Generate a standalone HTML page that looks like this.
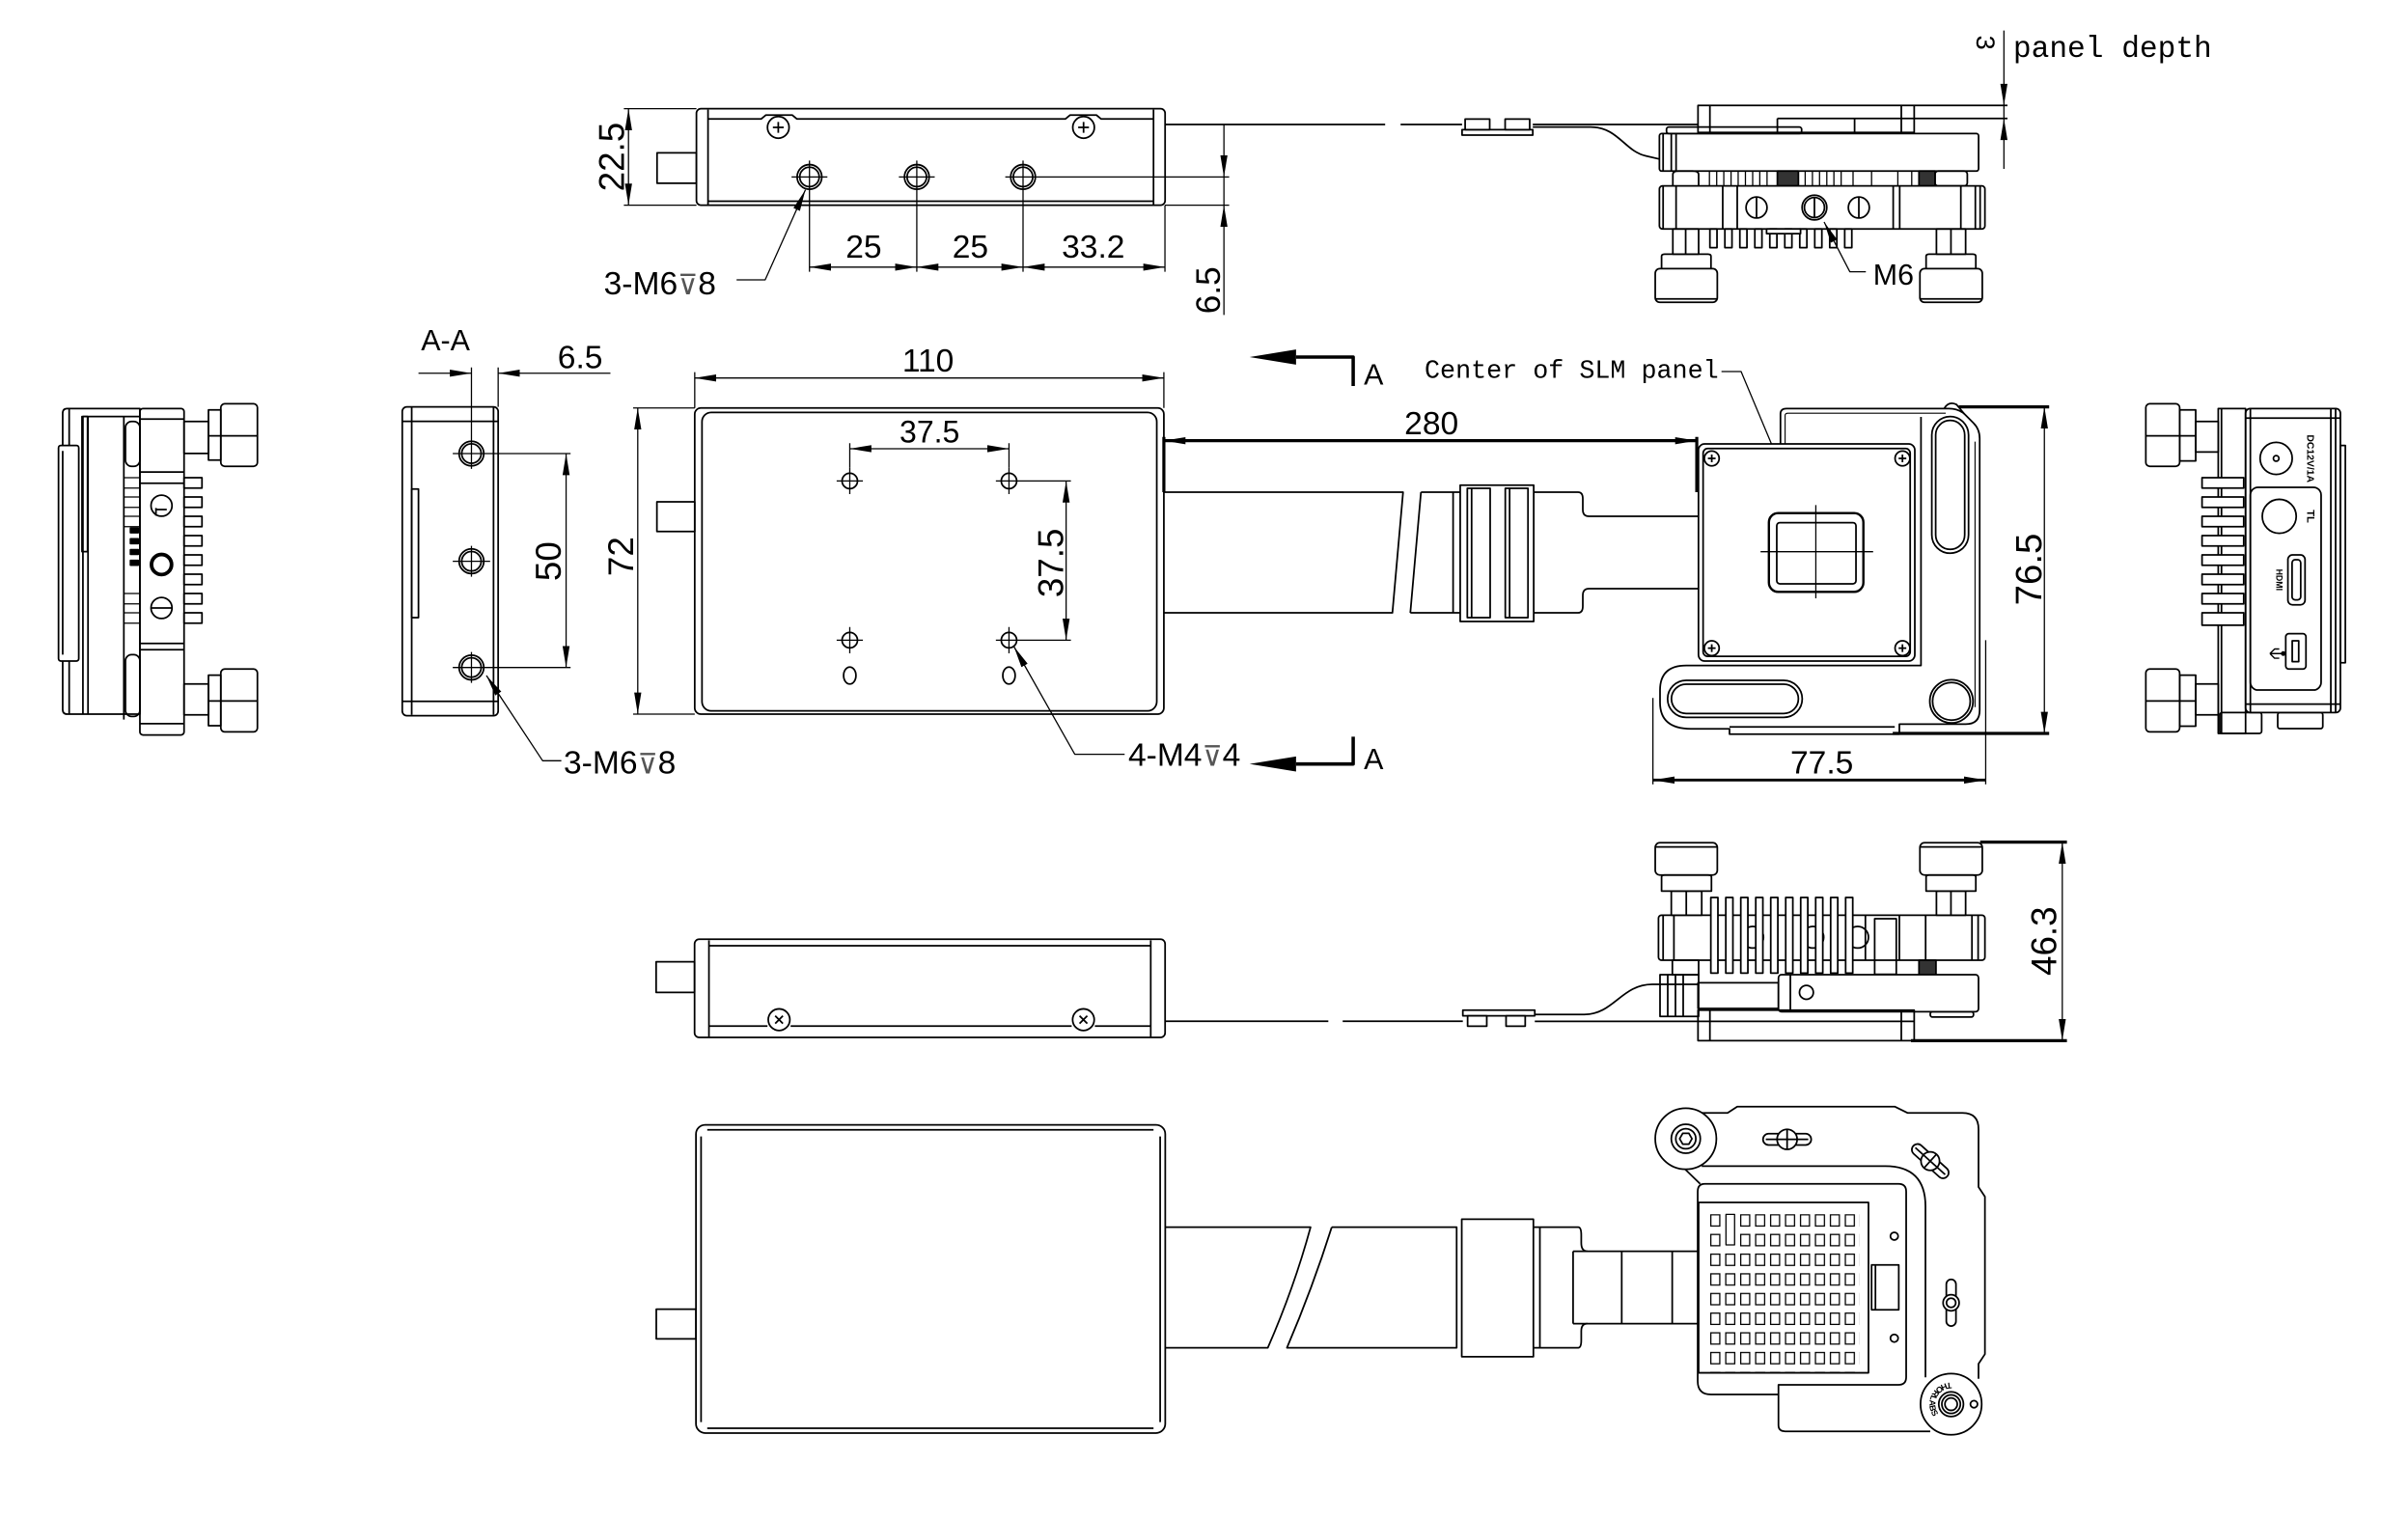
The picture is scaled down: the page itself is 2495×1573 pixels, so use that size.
<!DOCTYPE html>
<html><head><meta charset="utf-8"><title>SLM drawing</title>
<style>html,body{margin:0;padding:0;background:#fff}svg{display:block}</style></head>
<body>
<svg xmlns="http://www.w3.org/2000/svg" width="2495" height="1573" viewBox="0 0 1559.375 983.125">
<defs>
<marker id="ar" viewBox="0 -3 14 6" refX="14" refY="0" markerWidth="14" markerHeight="6" markerUnits="userSpaceOnUse" orient="auto-start-reverse"><path d="M0,-2.3L14,0L0,2.3z" fill="#000" stroke="none"/></marker>
<pattern id="grid" x="1107.5" y="786.35" width="9.68" height="12.74" patternUnits="userSpaceOnUse"><rect x="0.4" y="0.4" width="5.8" height="7.3" fill="none" stroke="#000" stroke-width="0.8"/></pattern>
<path id="thp" d="M1263.5,895.4 A14,14 0 1,0 1277.5,909.4"/>
</defs>
<rect width="1559.375" height="983.125" fill="#fff"/>

<g fill="none" stroke="#000" stroke-width="1.1" stroke-linejoin="round">
<!-- ============ TOP VIEW ============ -->
<rect x="451" y="70.4" width="303.5" height="62.5" rx="3"/>
<path d="M458.5,71V132.5M747,71V132.5M458.5,130.3H747"/>
<path d="M458.5,77H493l3,-2.5h17l3,2.5H690l3,-2.5h17l3,2.5H747"/>
<rect x="425.5" y="99" width="25.5" height="19.7"/>
<circle cx="504" cy="82.5" r="7"/><path d="M500.5,82.5h7M504,79v7"/>
<circle cx="701.7" cy="82.5" r="7"/><path d="M698.2,82.5h7M701.7,79v7"/>
<circle cx="524.2" cy="114.6" r="8"/><circle cx="524.2" cy="114.6" r="6.3"/>
<circle cx="593.7" cy="114.6" r="8"/><circle cx="593.7" cy="114.6" r="6.3"/>
<circle cx="662.5" cy="114.6" r="8"/><circle cx="662.5" cy="114.6" r="6.3"/>
<g stroke-width="0.8">
<path d="M512.6,114.6h23.2M582.1,114.6h23.2M651,114.6H796M524.2,104V176M593.7,104V176M662.5,104V176M754.4,133V176"/>
<line x1="524.2" y1="173" x2="593.7" y2="173" marker-start="url(#ar)" marker-end="url(#ar)"/>
<line x1="593.7" y1="173" x2="662.5" y2="173" marker-start="url(#ar)" marker-end="url(#ar)"/>
<line x1="662.5" y1="173" x2="754.4" y2="173" marker-start="url(#ar)" marker-end="url(#ar)"/>
<path d="M404,70.4H451M404,132.9H451"/>
<line x1="407" y1="70.4" x2="407" y2="132.9" marker-start="url(#ar)" marker-end="url(#ar)"/>
<path d="M792.6,80.6V204M754.4,132.9H796"/>
<polyline points="477,181.25 495.5,181.25 521.6,122.9" marker-end="url(#ar)"/>
</g>
<polygon points="792.6,114.6 790.3,100.6 794.9,100.6" fill="#000" stroke="none"/>
<polygon points="792.6,132.9 790.3,146.9 794.9,146.9" fill="#000" stroke="none"/>
<!-- cable top -->
<path d="M754.4,80.6H897M907,80.6H946.8M992.6,80.6H1100"/>
<rect x="946.8" y="84" width="45.8" height="3.5"/>
<rect x="948.8" y="77.1" width="15.9" height="6.9"/>
<rect x="974.7" y="77.1" width="15.9" height="6.9"/>
<path d="M992.6,82.3H1030C1048,82.3 1052,98 1066,101L1074.6,103"/>
<!-- top right device -->
<rect x="1099.6" y="68.3" width="140" height="17.5"/>
<path d="M1107.3,68.3V85.8M1231.25,68.3V85.8M1239.6,68.3H1300M1151,76.7H1300M1151,76.7V85.8M1201,76.7V85.8"/>
<rect x="1079.2" y="82.3" width="87.5" height="4.2" rx="1.5"/>
<rect x="1074.6" y="86.5" width="206.7" height="24.3" rx="1.5"/>
<path d="M1077,86.5V110.8M1082.3,86.5V110.8M1085.4,86.5V110.8"/>
<g stroke-width="0.8">
<path d="M1107,110.8v9.6M1111.7,110.8v9.6M1116.3,110.8v9.6M1121,110.8v9.6M1125.6,110.8v9.6M1130.3,110.8v9.6M1135,110.8v9.6M1139.6,110.8v9.6M1144.3,110.8v9.6M1169,110.8v9.6M1173.7,110.8v9.6M1178.3,110.8v9.6M1183,110.8v9.6M1187.6,110.8v9.6M1192.3,110.8v9.6M1200,110.8v9.6M1212,110.8v9.6M1229,110.8v9.6M1238,110.8v9.6"/>
</g>
<rect x="1151" y="110.8" width="13.6" height="9.6" fill="#333"/>
<rect x="1242.7" y="110.8" width="10.4" height="9.6" fill="#333"/>
<path d="M1083.3,120.4V113Q1083.3,110.8 1087,110.8H1096Q1100,110.8 1100,113V120.4"/>
<rect x="1253.1" y="110.8" width="20.9" height="9.6" rx="2"/>
<rect x="1074.6" y="120.4" width="210.8" height="27.9" rx="2"/>
<path d="M1077,120.4V148.3M1085.4,120.4V148.3M1115.6,120.4V148.3M1125,120.4V148.3M1226,120.4V148.3M1230.2,120.4V148.3M1269.8,120.4V148.3M1279.2,120.4V148.3M1282.3,120.4V148.3"/>
<circle cx="1137.5" cy="134.4" r="6.8"/><path d="M1137.5,127.6V141.2"/>
<circle cx="1175" cy="134.4" r="8"/><circle cx="1175" cy="134.4" r="6.5"/><path d="M1175,128V141"/>
<circle cx="1203.75" cy="134.4" r="6.8"/><path d="M1203.75,127.6V141.2"/>
<rect x="1107.3" y="148.3" width="4.6" height="12.1"/><rect x="1117" y="148.3" width="4.6" height="12.1"/><rect x="1126.7" y="148.3" width="4.6" height="12.1"/><rect x="1136.4" y="148.3" width="4.6" height="12.1"/><rect x="1146.1" y="148.3" width="4.6" height="12.1"/><rect x="1155.8" y="148.3" width="4.6" height="12.1"/><rect x="1165.5" y="148.3" width="4.6" height="12.1"/><rect x="1175.2" y="148.3" width="4.6" height="12.1"/><rect x="1184.9" y="148.3" width="4.6" height="12.1"/><rect x="1194.6" y="148.3" width="4.6" height="12.1"/>
<rect x="1144" y="148.3" width="22" height="3" fill="#fff"/>
<rect x="1083.3" y="148.3" width="16.7" height="16.3"/><path d="M1091.6,148.3V164.6"/>
<rect x="1254" y="148.3" width="18.9" height="16.3"/><path d="M1263.4,148.3V164.6"/>
<path d="M1076,174V166Q1076,164.6 1078,164.6H1106Q1108,164.6 1108,166V174"/>
<rect x="1071.9" y="174" width="40.2" height="21.8" rx="3"/>
<path d="M1071.9,193.6H1112.1"/>
<path d="M1247.3,174V166Q1247.3,164.6 1249.3,164.6H1277.5Q1279.5,164.6 1279.5,166V174"/>
<rect x="1243.3" y="174" width="40.4" height="21.8" rx="3"/>
<path d="M1243.3,193.6H1283.7"/>
<g stroke-width="0.8">
<polyline points="1208.3,176 1197.9,176 1181.25,143.75" marker-end="url(#ar)"/>
<path d="M1297.7,19.8V109.4"/>
</g>
<polygon points="1297.7,68.3 1295.4,54.3 1300,54.3" fill="#000" stroke="none"/>
<polygon points="1297.7,76.7 1295.4,90.7 1300,90.7" fill="#000" stroke="none"/>

<!-- ============ FAR LEFT VIEW ============ -->
<path d="M43.6,264.6H90.6V462.5H43.6Q40.6,462.5 40.6,459.5V267.6Q40.6,264.6 43.6,264.6Z"/>
<path d="M44.8,264.6V462.5M57,269.8V462.5M53.7,269.8H90.6M53.7,269.8V462.5M80.2,269.8V466"/>
<rect x="37.9" y="288.5" width="13.1" height="139.6" rx="1.5" fill="#fff"/>
<path d="M40.6,292V424"/>
<rect x="53.1" y="269.8" width="3.6" height="87.5"/>
<rect x="81.25" y="273" width="9.35" height="29" rx="4"/>
<rect x="81.25" y="424" width="9.35" height="40" rx="4"/>
<g stroke-width="0.8">
<path d="M80.2,309.4h10.4M80.2,316.1h10.4M80.2,321.9h10.4M80.2,328.6h10.4M80.2,334.4h10.4M80.2,341.1h10.4M80.2,384.4h10.4M80.2,391.1h10.4M80.2,396.9h10.4M80.2,403.6h10.4"/>
</g>
<rect x="84.5" y="342" width="5" height="3" fill="#000"/><rect x="84.5" y="349" width="5" height="3" fill="#000"/><rect x="84.5" y="356" width="5" height="3" fill="#000"/><rect x="84.5" y="363" width="5" height="3" fill="#000"/>
<rect x="90.6" y="264.6" width="28.6" height="211.4" rx="2"/>
<path d="M90.6,271.4H119.2M90.6,305.7H119.2M90.6,313H119.2M90.6,416.7H119.2M90.6,420.8H119.2M90.6,468.7H119.2"/>
<rect x="119.2" y="309.4" width="11.6" height="6.7"/><rect x="119.2" y="321.9" width="11.6" height="6.7"/><rect x="119.2" y="334.4" width="11.6" height="6.7"/><rect x="119.2" y="346.9" width="11.6" height="6.7"/><rect x="119.2" y="359.4" width="11.6" height="6.7"/><rect x="119.2" y="371.9" width="11.6" height="6.7"/><rect x="119.2" y="384.4" width="11.6" height="6.7"/><rect x="119.2" y="396.9" width="11.6" height="6.7"/>
<circle cx="104.6" cy="327.5" r="6.8"/><path d="M101,329V334M101,330H108"/>
<circle cx="104.6" cy="365.6" r="6.5" stroke-width="2.4"/>
<circle cx="104.6" cy="393.75" r="6.8"/><path d="M98,393.75H111.2"/>
<rect x="119.2" y="273" width="15.8" height="20.7"/>
<path d="M135,265.5H143V298H135Z"/>
<rect x="143" y="261.5" width="23.7" height="40.5" rx="2.5"/>
<path d="M135,282.3H166.7"/>
<rect x="119.2" y="443" width="15.8" height="20"/>
<path d="M135,437.3H143V470H135Z"/>
<rect x="143" y="433.3" width="23.7" height="40.7" rx="2.5"/>
<path d="M135,454H166.7"/>

<!-- ============ A-A SECTION ============ -->
<rect x="260.5" y="263.5" width="62.1" height="200" rx="3"/>
<path d="M266.6,264V463M319.6,264V463M260.5,272.9H322.6M260.5,454.2H322.6"/>
<rect x="266.6" y="316.7" width="4.4" height="83.3"/>
<circle cx="305.3" cy="293.75" r="8"/><circle cx="305.3" cy="293.75" r="6.3"/>
<circle cx="305.3" cy="363.5" r="8"/><circle cx="305.3" cy="363.5" r="6.3"/>
<circle cx="305.3" cy="432.3" r="8"/><circle cx="305.3" cy="432.3" r="6.3"/>
<g stroke-width="0.8">
<path d="M293.2,293.75H369.5M293.2,363.5H317.4M305.3,353.5V373.5M293.2,432.3H369.5M305.3,422.3V442.3M305.3,238V303.7M322.6,238V263.5"/>
<line x1="271" y1="241.7" x2="305.3" y2="241.7" marker-end="url(#ar)"/>
<line x1="395.3" y1="241.7" x2="322.6" y2="241.7" marker-end="url(#ar)"/>
<line x1="366.6" y1="293.75" x2="366.6" y2="432.3" marker-start="url(#ar)" marker-end="url(#ar)"/>
<path d="M410,264.2H449.9M410,462.5H449.9"/>
<line x1="413" y1="264.2" x2="413" y2="462.5" marker-start="url(#ar)" marker-end="url(#ar)"/>
<polyline points="363.5,492.7 351.4,492.7 315,437.5" marker-end="url(#ar)"/>
</g>

<!-- ============ MIDDLE TOP VIEW ============ -->
<rect x="449.9" y="264.2" width="303.8" height="198.3" rx="4"/>
<rect x="454.6" y="267.1" width="294.5" height="193.3" rx="6"/>
<rect x="425.4" y="325" width="24.5" height="19.2"/>
<circle cx="550.3" cy="311.5" r="5"/><circle cx="653.4" cy="311.5" r="5"/>
<circle cx="550.3" cy="414.6" r="5"/><circle cx="653.4" cy="414.6" r="5"/>
<ellipse cx="550.3" cy="437.5" rx="4" ry="5.5"/><ellipse cx="653.4" cy="437.5" rx="4" ry="5.5"/>
<g stroke-width="0.8">
<path d="M541.8,311.5h17M550.3,303v17M541.8,414.6h17M550.3,406.1v17M644.9,311.5H693.5M653.4,303v17M644.9,414.6H693.5M653.4,406.1v17"/>
<path d="M449.9,241V264.2M753.7,241V264.2M550.3,287V303M653.4,287V303"/>
<line x1="449.9" y1="244.8" x2="753.7" y2="244.8" marker-start="url(#ar)" marker-end="url(#ar)"/>
<line x1="550.3" y1="290.6" x2="653.4" y2="290.6" marker-start="url(#ar)" marker-end="url(#ar)"/>
<line x1="690.4" y1="311.5" x2="690.4" y2="414.6" marker-start="url(#ar)" marker-end="url(#ar)"/>
<polyline points="728.3,488.5 696,488.5 656.6,418.75" marker-end="url(#ar)"/>
<polyline points="1114.8,240.6 1127.5,240.6 1175.9,356" marker-end="url(#ar)"/>
</g>
<!-- section markers -->
<polygon points="809.2,231.25 839.3,226.3 839.3,236.2" fill="#000" stroke="none"/>
<path d="M839.3,231.25H876.3V250" stroke-width="2.2"/>
<polygon points="809.2,494.8 839.3,489.9 839.3,499.7" fill="#000" stroke="none"/>
<path d="M839.3,494.8H876.3V477.1" stroke-width="2.2"/>
<!-- cable middle -->
<path d="M753.7,318.75H908.6L901.7,396.9H753.7"/>
<path d="M920.2,318.75H945.6M913.3,396.9H945.6M920.2,318.75L913.3,396.9M941,318.75V396.9"/>
<rect x="945.6" y="314.2" width="47.6" height="88.3"/>
<rect x="950.2" y="316.25" width="14.8" height="83.75"/><path d="M953,316.25V400"/>
<rect x="974.8" y="316.25" width="14.7" height="83.75"/><path d="M977.6,316.25V400"/>
<path d="M993.2,318.75H1021.9Q1025,318.75 1025,323V330Q1025,334.4 1029,334.4H1099.9"/>
<path d="M993.2,396.9H1021.9Q1025,396.9 1025,392.6V385.6Q1025,381.25 1029,381.25H1099.9"/>
<path d="M753.7,283V318.75M1098.8,283V318.75" stroke-width="2"/>
<line x1="753.7" y1="285.4" x2="1098.8" y2="285.4" stroke-width="2" marker-start="url(#ar)" marker-end="url(#ar)"/>

<!-- ============ SLM HEAD FRONT ============ -->
<path d="M1153,287.5V268Q1153,264.6 1157,264.6H1262Q1268,264.6 1272,268L1278,274Q1282,278 1282,284V460Q1282,469 1273,469H1230V475.5H1120V472H1095Q1075,472 1075,455V447Q1075,431 1092,431H1100"/>
<path d="M1156,287.5V269Q1156,267.6 1158,267.6H1260M1279,286V458" stroke-width="0.7"/>
<path d="M1244,270V431H1100M1120,470.8H1227"/>
<path d="M1259,264.6Q1262,259.5 1267,262L1272,268"/>
<rect x="1099.9" y="287.5" width="140.1" height="140.6" rx="4" fill="#fff"/>
<rect x="1102.9" y="290.5" width="134.1" height="134.6" rx="3"/>
<circle cx="1108.5" cy="296.9" r="4.8"/><circle cx="1232" cy="296.9" r="4.8"/>
<circle cx="1108.5" cy="419.8" r="4.8"/><circle cx="1232" cy="419.8" r="4.8"/>
<path d="M1106,296.9h5M1108.5,294.4v5M1229.5,296.9h5M1232,294.4v5M1106,419.8h5M1108.5,417.3v5M1229.5,419.8h5M1232,417.3v5"/>
<rect x="1145.5" y="332.3" width="61.2" height="51" rx="6" stroke-width="1.5"/>
<rect x="1150.6" y="338.5" width="51.3" height="39.6" rx="2"/>
<path d="M1140.1,357.3H1213M1175.9,327.1V387.5" stroke-width="0.8"/>
<rect x="1251" y="269.8" width="23.8" height="88.5" rx="11.9"/>
<rect x="1253.5" y="272.3" width="18.8" height="83.5" rx="9.4"/>
<rect x="1079.9" y="440.6" width="87.2" height="24" rx="12"/>
<rect x="1082.4" y="443.1" width="82.2" height="19" rx="9.5"/>
<circle cx="1263.7" cy="454.2" r="14"/><circle cx="1263.7" cy="454.2" r="12.2"/>
<g stroke-width="0.8">
<path d="M1268.5,263.5H1327M1225.7,475H1327" stroke-width="2"/>
<line x1="1323.9" y1="263.5" x2="1323.9" y2="475" marker-start="url(#ar)" marker-end="url(#ar)"/>
<path d="M1070.4,452V508M1285.9,414.6V508"/>
<line x1="1070.4" y1="505.2" x2="1285.9" y2="505.2" stroke-width="1.8" marker-start="url(#ar)" marker-end="url(#ar)"/>
</g>

<!-- ============ RIGHT SIDE VIEW ============ -->
<rect x="1411.5" y="265.5" width="10.4" height="33"/>
<rect x="1389.6" y="261.5" width="21.9" height="40.5" rx="2.5"/>
<path d="M1389.6,282.3H1421.9"/>
<rect x="1421.9" y="273" width="14.6" height="19.7"/>
<rect x="1436.5" y="264.6" width="17.7" height="210.4"/>
<path d="M1438.6,264.6V475"/>
<rect x="1426" y="309.4" width="27" height="6.7" fill="#fff"/><rect x="1426" y="321.9" width="27" height="6.7" fill="#fff"/><rect x="1426" y="334.4" width="27" height="6.7" fill="#fff"/><rect x="1426" y="346.9" width="27" height="6.7" fill="#fff"/><rect x="1426" y="359.4" width="27" height="6.7" fill="#fff"/><rect x="1426" y="371.9" width="27" height="6.7" fill="#fff"/><rect x="1426" y="384.4" width="27" height="6.7" fill="#fff"/><rect x="1426" y="396.9" width="27" height="8" fill="#fff"/>
<rect x="1454.2" y="264.6" width="61.4" height="196.9" rx="3"/>
<path d="M1457.3,264.6V461.5M1509.4,264.6V461.5M1512.5,264.6V461.5M1454.2,270.8H1515.6M1454.2,456H1515.6"/>
<rect x="1515.6" y="288.5" width="3.2" height="140.7"/>
<circle cx="1474" cy="296.9" r="10.4"/><circle cx="1474" cy="296.9" r="1.8"/>
<rect x="1457.3" y="315.6" width="45.8" height="131.3" rx="5"/>
<circle cx="1476" cy="334.4" r="11"/>
<rect x="1481.6" y="359.4" width="11.1" height="32.3" rx="3"/>
<rect x="1484.3" y="362.5" width="5.6" height="26" rx="2"/>
<rect x="1480.2" y="410.4" width="13.1" height="22.9" rx="2"/>
<rect x="1484.4" y="415" width="4.2" height="13.5"/>
<path d="M1470,423.3H1478M1470,423.3l3,-3h3M1470,423.3l3,3h3" stroke-width="0.9"/>
<circle cx="1478.6" cy="423.3" r="1" fill="#000"/>
<rect x="1411.5" y="437.3" width="10.4" height="33"/>
<rect x="1389.6" y="433.3" width="21.9" height="40.7" rx="2.5"/>
<path d="M1389.6,454H1421.9"/>
<rect x="1421.9" y="443" width="14.6" height="20"/>
<rect x="1437.5" y="461.5" width="27.1" height="13.5" rx="1.5"/>
<rect x="1475" y="461.5" width="29.2" height="10.4" rx="1.5"/>

<!-- ============ LOWER SIDE VIEW ============ -->
<rect x="449.8" y="608.3" width="304.7" height="63.6" rx="3"/>
<path d="M459.1,609V671.5M745.2,609V671.5M459.1,612.5H745.2M459.1,664.5H497M512,664.5H694M709,664.5H745.2"/>
<rect x="424.9" y="622.9" width="24.9" height="19.8"/>
<circle cx="504.5" cy="660.4" r="7"/><path d="M502,657.9l5,5M507,657.9l-5,5"/>
<circle cx="701.6" cy="660.4" r="7"/><path d="M699.1,657.9l5,5M704.1,657.9l-5,5"/>
<path d="M754.5,661.4H860.2M869.5,661.4H947.3M993.9,661.5H1099.6"/>
<rect x="947.3" y="654.2" width="46.6" height="3.7"/>
<rect x="950.4" y="657.9" width="12.4" height="6.7"/>
<rect x="975.3" y="657.9" width="12.4" height="6.7"/>
<path d="M993.9,657H1026C1045,657 1050,637.5 1070,637.5H1099.6"/>
<!-- device lower -->
<path d="M1076,577.1V568Q1076,566.7 1078,566.7H1106Q1108.3,566.7 1108.3,568V577.1Z"/>
<rect x="1071.9" y="545.8" width="40.2" height="20.9" rx="3"/>
<path d="M1071.9,548.5H1112.1"/>
<rect x="1082.3" y="577.1" width="19.7" height="15.6"/><path d="M1092,577.1V592.7"/>
<path d="M1247.3,577.1V568Q1247.3,566.7 1249.3,566.7H1277.5Q1279.5,566.7 1279.5,568V577.1Z"/>
<rect x="1243.3" y="545.8" width="40.4" height="20.9" rx="3"/>
<path d="M1243.3,548.5H1283.7"/>
<rect x="1254" y="577.1" width="18.9" height="15.6"/><path d="M1263.4,577.1V592.7"/>
<rect x="1074" y="592.7" width="211.4" height="29.2" rx="2"/>
<path d="M1077,592.7V621.9M1084,592.7V621.9M1208,592.7V621.9M1230,592.7V621.9M1247,592.7V621.9M1277,592.7V621.9M1281,592.7V621.9"/>
<circle cx="1135" cy="607" r="7"/><circle cx="1174" cy="607" r="7"/><circle cx="1203" cy="607" r="7"/>
<rect x="1107.9" y="581.25" width="4.6" height="49" fill="#fff"/><rect x="1117.6" y="581.25" width="4.6" height="49" fill="#fff"/><rect x="1127.3" y="581.25" width="4.6" height="49" fill="#fff"/><rect x="1137" y="581.25" width="4.6" height="49" fill="#fff"/><rect x="1146.7" y="581.25" width="4.6" height="49" fill="#fff"/><rect x="1156.4" y="581.25" width="4.6" height="49" fill="#fff"/><rect x="1166.1" y="581.25" width="4.6" height="49" fill="#fff"/><rect x="1175.8" y="581.25" width="4.6" height="49" fill="#fff"/><rect x="1185.5" y="581.25" width="4.6" height="49" fill="#fff"/><rect x="1195.2" y="581.25" width="4.6" height="49" fill="#fff"/>
<rect x="1214" y="595" width="14" height="36"/>
<rect x="1083" y="621.9" width="17" height="9.4"/>
<rect x="1242.7" y="621.9" width="11" height="9.4" fill="#333"/>
<rect x="1075" y="631.25" width="25" height="27"/>
<path d="M1080,631.25V658.3M1085,631.25V658.3M1090,631.25V658.3"/>
<rect x="1099.6" y="636.5" width="52.1" height="16.6"/>
<rect x="1151.7" y="631.25" width="129.55" height="24" rx="2" fill="#fff"/>
<path d="M1159.4,631.25V655.25"/>
<circle cx="1169.8" cy="642.7" r="4.5"/>
<rect x="1099.6" y="654.2" width="140" height="19.8"/>
<path d="M1107.3,654.2V674M1231.25,654.2V674M1099.6,661.5H1239.6"/>
<rect x="1250" y="655.2" width="28" height="3.5" rx="1.5"/>
<g stroke-width="0.8">
<path d="M1282.3,545.4H1338.5M1237.5,674H1338.5" stroke-width="2"/>
<line x1="1335.5" y1="545.4" x2="1335.5" y2="674" marker-start="url(#ar)" marker-end="url(#ar)"/>
</g>

<!-- ============ BOTTOM VIEW ============ -->
<rect x="450.7" y="728.5" width="303.9" height="199.6" rx="6"/>
<path d="M454,736V921M751.3,736V921M458,731.7H747M458,925H747"/>
<rect x="425" y="847.9" width="25.7" height="19.2"/>
<path d="M754.6,794.8H848.7Q838,834 821,872.9H754.6"/>
<path d="M862.4,794.8H943.3V872.9H833.4Q850,834 862.4,794.8"/>
<rect x="946.6" y="789.6" width="46.4" height="89.1"/>
<path d="M993,794.8H1022Q1024,794.8 1024,800V805Q1024,810.4 1028,810.4M993,872.9H1022Q1024,872.9 1024,868V862Q1024,857.3 1028,857.3M997.2,794.8V872.9M1018.7,810.4V857.3"/>
<path d="M1018.7,810.4H1099.4M1018.7,857.3H1099.4M1050.2,810.4V857.3M1082.9,810.4V857.3"/>
<!-- SLM bottom -->
<path d="M1102,720.8H1118.75L1125,716.7H1227L1235.4,720.8H1270.8Q1281.25,720.8 1281.25,731.25V768.75L1285.4,775V877L1281.25,883.3V893"/>
<path d="M1246.9,892V781.25Q1246.9,755.2 1220.8,755.2H1102"/>
<path d="M1091,757L1101,766.7"/>
<path d="M1104,766.7H1229.4Q1234.4,766.7 1234.4,771.7V891.9Q1234.4,896.9 1229.4,896.9H1151.7V923Q1151.7,927 1156,927H1250M1151.7,896.9V903.1H1108Q1099.4,903.1 1099.4,894.5V771.7Q1099.4,766.7 1104,766.7"/>
<rect x="1100" y="778.75" width="110" height="110.35"/>
<rect x="1107.5" y="786.35" width="96.8" height="101.92" fill="url(#grid)" stroke="none"/>
<rect x="1116.5" y="785" width="8.5" height="24" fill="#fff" stroke="none"/>
<rect x="1117.7" y="786.5" width="5.6" height="19.75" stroke-width="0.8"/>
<circle cx="1226.7" cy="800.6" r="2.5"/><circle cx="1226.7" cy="866.7" r="2.5"/>
<rect x="1212" y="819.2" width="17.6" height="29.1"/><path d="M1214.5,819.2V848.3"/>
<circle cx="1091.7" cy="737.5" r="19.8" fill="#fff"/>
<circle cx="1091.7" cy="737.5" r="9.4"/><circle cx="1091.7" cy="737.5" r="6.5"/>
<polygon points="1095.7,737.5 1093.7,741 1089.7,741 1087.7,737.5 1089.7,734 1093.7,734"/>
<rect x="1141.7" y="734.25" width="31.2" height="7.3" rx="3.6"/>
<circle cx="1157.3" cy="737.9" r="6.5" fill="#fff"/><path d="M1157.3,731.4V744.4M1143.5,737.9H1171"/>
<g transform="rotate(42 1250 752)"><rect x="1235.25" y="748.35" width="29.5" height="7.3" rx="3.6"/><circle cx="1250" cy="752" r="6" fill="#fff"/><path d="M1250,746V758M1237,752H1263"/></g>
<rect x="1260.4" y="828.6" width="6.25" height="30.2" rx="3.1"/>
<circle cx="1263.5" cy="843.75" r="5.2" fill="#fff"/><circle cx="1263.5" cy="843.75" r="3"/>
<circle cx="1263.5" cy="909.4" r="19.8" fill="#fff"/>
<circle cx="1263.5" cy="909.4" r="8"/><circle cx="1263.5" cy="909.4" r="6"/><circle cx="1263.5" cy="909.4" r="4"/>
<circle cx="1278.3" cy="909.4" r="2.3"/>
</g>

<!-- ============ TEXT ============ -->
<g font-family="'Liberation Sans', 'DejaVu Sans', sans-serif" font-size="21" fill="#000" stroke="none">
<text x="559.3" y="167" text-anchor="middle">25</text>
<text x="628.4" y="167" text-anchor="middle">25</text>
<text x="708" y="167" text-anchor="middle">33.2</text>
<text transform="translate(404,101.6) rotate(-90)" text-anchor="middle" font-size="23">22.5</text>
<text transform="translate(790,188) rotate(-90)" text-anchor="middle" font-size="22">6.5</text>
<text x="391" y="190.6">3-M6<tspan fill="#555" font-size="18">⊽</tspan>8</text>
<text x="1213" y="184.4" font-size="19">M6</text>
<text transform="translate(1280,27.6) rotate(90)" text-anchor="middle" font-size="17">3</text>
<text x="288.5" y="227" text-anchor="middle" font-size="19">A-A</text>
<text x="375.7" y="238.5" text-anchor="middle">6.5</text>
<text transform="translate(363,363.5) rotate(-90)" text-anchor="middle" font-size="23">50</text>
<text transform="translate(410,360.4) rotate(-90)" text-anchor="middle" font-size="23">72</text>
<text x="365" y="501">3-M6<tspan fill="#555" font-size="18">⊽</tspan>8</text>
<text x="601" y="240.6" text-anchor="middle">110</text>
<text x="602" y="286.5" text-anchor="middle" font-size="20">37.5</text>
<text transform="translate(688.5,364.6) rotate(-90)" text-anchor="middle" font-size="23">37.5</text>
<text x="730.6" y="496">4-M4<tspan fill="#555" font-size="18">⊽</tspan>4</text>
<text x="883.2" y="249" font-size="19">A</text>
<text x="883.2" y="498" font-size="19">A</text>
<text x="927" y="281.25" text-anchor="middle">280</text>
<text transform="translate(1322,368.75) rotate(-90)" text-anchor="middle" font-size="24">76.5</text>
<text x="1179.8" y="501" text-anchor="middle">77.5</text>
<text transform="translate(1331.5,609.5) rotate(-90)" text-anchor="middle" font-size="23">46.3</text>
</g>
<g font-family="'Liberation Mono', 'DejaVu Sans Mono', monospace" fill="#000">
<text x="1303.7" y="37" font-size="19.5">panel depth</text>
<text x="922.5" y="244.8" font-size="16.7">Center of SLM panel</text>
</g>
<g font-family="'Liberation Sans', sans-serif" fill="#000" font-weight="bold">
<text transform="translate(1494,297) rotate(90)" text-anchor="middle" font-size="6.5">DC12V/1A</text>
<text transform="translate(1494,334.4) rotate(90)" text-anchor="middle" font-size="7">TL</text>
<text transform="translate(1474,375.5) rotate(90)" text-anchor="middle" font-size="5.5">HDMI</text>
<text font-size="5.5"><textPath href="#thp">THORLABS</textPath></text>
</g>
</svg>
</body></html>
